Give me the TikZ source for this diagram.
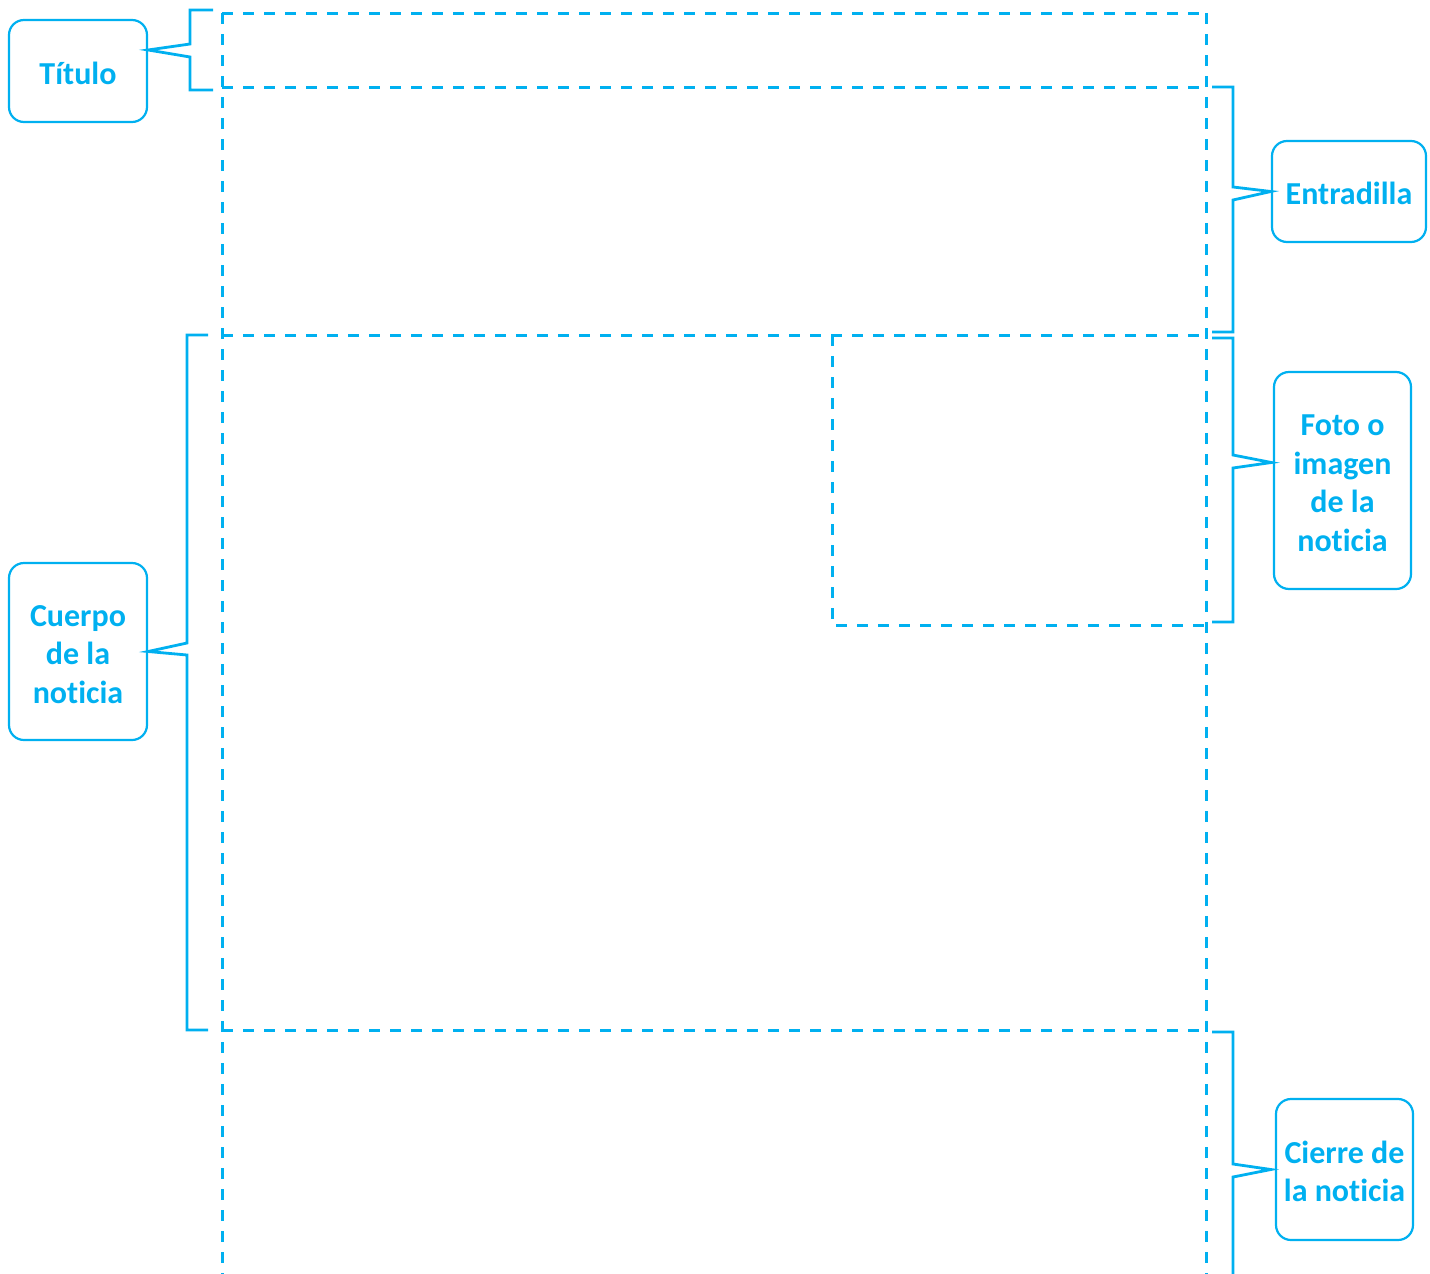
\documentclass[tikz,border=0pt]{standalone}
\usepackage{fontspec}
\setmainfont[Ligatures=NoCommon]{Carlito}
\definecolor{cy}{HTML}{00B0F0}
\newcommand\lbltext[1]{\raisebox{-5.5pt}[\height][\depth]{\begin{tabular}{@{}c@{}}#1\end{tabular}}}
\begin{document}
\begin{tikzpicture}[x=1pt,y=-1pt,
  lab/.style={draw=cy,line width=2.2pt,rounded corners=15pt,align=center,text=cy,
    font=\fontsize{32}{38.5}\selectfont\bfseries,inner sep=0pt},
  guide/.style={draw=cy,line width=3pt,dash pattern=on 11pt off 10pt},
  brk/.style={draw=cy,line width=2.8pt,miter limit=10}]
\useasboundingbox (0,0) rectangle (1430,1274);
% dashed layout
\begin{scope}
\clip (0,0) rectangle (1430,1274);
\draw[guide] (222,13) -- (1206,13);
\draw[guide] (222,87) -- (1206,87);
\draw[guide] (222,335) -- (1206,335);
\draw[guide] (222,1030) -- (1206,1030);
\draw[guide] (222,13) -- (222,1280);
\draw[guide] (1206,13) -- (1206,1280);
\draw[guide] (832,335) -- (832,625) -- (1206,625);
\end{scope}
% labels
\node[lab,minimum width=138pt,minimum height=102pt] (tit) at (78,71) {\lbltext{Título}};
\node[lab,minimum width=154pt,minimum height=101pt] (ent) at (1349,191.5) {\lbltext{Entradilla}};
\node[lab,minimum width=137pt,minimum height=217pt] (foto) at (1342.5,480.5) {\lbltext{Foto o\\imagen\\de la\\noticia}};
\node[lab,minimum width=138pt,minimum height=177pt] (cue) at (78,651.5) {\lbltext{Cuerpo\\de la\\noticia}};
\node[lab,minimum width=137pt,minimum height=141pt] (cie) at (1344.5,1169.5) {\lbltext{Cierre de\\la noticia}};
% brackets
\coordinate (pT) at ([yshift=21pt]tit.east);
\draw[brk] (213,10) -- (190,10) -- (190,44) -- (pT) -- (190,57) -- (190,90) -- (213,90);
\draw[brk] (1212,87) -- (1233,87) -- (1233,187) -- (ent.west) -- (1233,200) -- (1233,332) -- (1212,332);
\coordinate (pF) at ([yshift=18pt,xshift=-1.5pt]foto.west);
\draw[brk] (1212,338) -- (1233,338) -- (1233,455) -- (pF) -- (1233,468) -- (1233,622) -- (1212,622);
\draw[brk] (208,335) -- (187,335) -- (187,643) -- (cue.east) -- (187,655) -- (187,1030) -- (208,1030);
\coordinate (pC) at ([xshift=-4pt]cie.west);
\coordinate (endC) at (1233,1280);
\draw[brk] (1212,1032) -- (1233,1032) -- (1233,1164) -- (pC) -- (1233,1177) -- (endC);
\end{tikzpicture}
\end{document}
